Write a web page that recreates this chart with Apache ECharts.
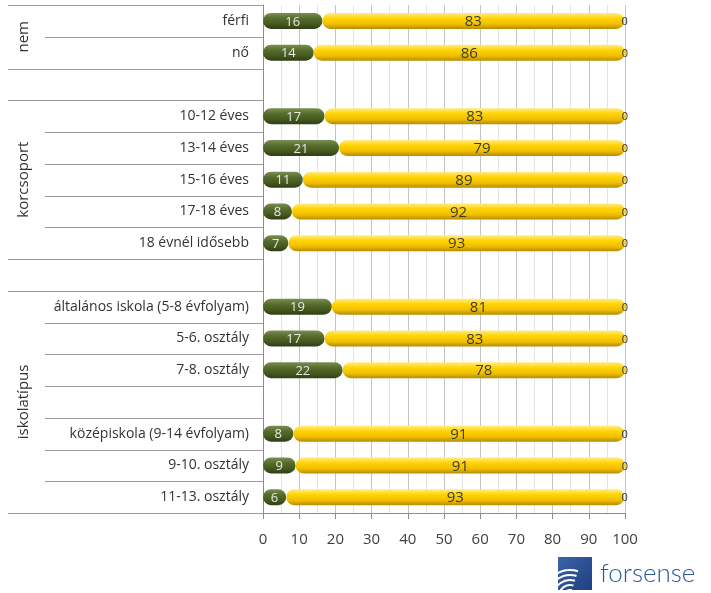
<!DOCTYPE html>
<html><head><meta charset="utf-8">
<script src="https://cdn.jsdelivr.net/npm/echarts@6/dist/echarts.min.js"></script>
<style>html,body{margin:0;padding:0;background:#fff}#c{width:711px;height:593px}</style>
</head><body><div id="c"></div>
<script>
var categories = ['férfi','nő','','10-12 éves','13-14 éves','15-16 éves','17-18 éves','18 évnél idősebb','','általános iskola (5-8 évfolyam)','5-6. osztály','7-8. osztály','','középiskola (9-14 évfolyam)','9-10. osztály','11-13. osztály'];
var seriesA = [16.4,14,null,17,21,11,8,7,null,19,17,22,null,8.4,9,6.4];
var seriesB = [83.4,86,null,83,79,89,92,93,null,81,83,78,null,91.4,91,93.4];
var seriesC = [0.2,0,null,0,0,0,0,0,null,0,0,0,null,0.2,0,0.2];
var xTicks = [0,10,20,30,40,50,60,70,80,90,100];
var groups = [{name:'nem',from:0,to:1},{name:'korcsoport',from:3,to:7},{name:'iskolatípus',from:9,to:15}];
var fullBoundaries = [0,2,3,8,9,16];
var innerBoundaries = [1,4,5,6,7,10,11,12,13,14,15];

var FONT = '"Open Sans", "DejaVu Sans", sans-serif';
var chart = echarts.init(document.getElementById('c'));
function grad(c1,c2,c3,c4){return new echarts.graphic.LinearGradient(0,0,0,1,[{offset:0,color:c1},{offset:0.35,color:c2},{offset:0.7,color:c3},{offset:1,color:c4}]);}
var round = function(p){return p.value==null?'':String(Math.round(p.value));};
chart.setOption({
  animation:false,
  grid:{left:263,right:86,top:5,bottom:80,containLabel:false},
  xAxis:{type:'value',min:xTicks[0],max:xTicks[xTicks.length-1],interval:10,
    axisLine:{show:true,lineStyle:{color:'#8c8c8c'}},
    axisTick:{show:true,length:6,lineStyle:{color:'#8c8c8c'}},
    axisLabel:{color:'#404040',fontSize:15,fontFamily:FONT,margin:19},
    splitLine:{show:true,lineStyle:{color:'#c4c4c4'}},
    minorTick:{show:false,splitNumber:2},
    minorSplitLine:{show:true,lineStyle:{color:'#e4e4e4'}}
  },
  yAxis:{type:'category',data:categories,inverse:true,
    axisLine:{show:true,lineStyle:{color:'#8c8c8c'}},
    axisTick:{show:false},
    axisLabel:{color:'#333',fontSize:14,fontFamily:FONT,margin:14}
  },
  series:[
    {type:'bar',stack:'s',data:seriesA,barWidth:16,
      itemStyle:{color:grad('#7d8f55','#566d2c','#45591f','#2f3e14'),borderRadius:8},
      label:{show:true,position:'inside',offset:[0,1],color:'#e8e8e8',fontSize:13,fontFamily:FONT,formatter:round}},
    {type:'bar',stack:'s',data:seriesB,barWidth:16,
      itemStyle:{color:grad('#ffec8a','#ffd400','#f0bf00','#b88c00'),borderRadius:8},
      label:{show:true,position:'inside',offset:[0,1],color:'#3a3a3a',fontSize:15,fontFamily:FONT,formatter:round}},
    {type:'bar',stack:'s',data:seriesC,barWidth:16,
      itemStyle:{color:'rgba(0,0,0,0)'},
      label:{show:true,position:'inside',offset:[0,1],color:'#333',fontSize:11,fontFamily:FONT,formatter:round}}
  ]
});

var y0 = chart.convertToPixel({yAxisIndex:0},0);
var y1 = chart.convertToPixel({yAxisIndex:0},1);
var band = y1 - y0;
function boundaryY(k){return y0 - band/2 + k*band;}
var axisX = chart.convertToPixel({xAxisIndex:0},0);
var els = [];
fullBoundaries.forEach(function(k){
  var y = Math.round(boundaryY(k))+0.5;
  els.push({type:'line',shape:{x1:8,y1:y,x2:axisX,y2:y},style:{stroke:'#9a9a9a',lineWidth:1},silent:true});
});
innerBoundaries.forEach(function(k){
  var y = Math.round(boundaryY(k))+0.5;
  els.push({type:'line',shape:{x1:45,y1:y,x2:axisX,y2:y},style:{stroke:'#9a9a9a',lineWidth:1},silent:true});
});
groups.forEach(function(g){
  var yc = (boundaryY(g.from)+boundaryY(g.to+1))/2;
  els.push({type:'text',x:24,y:yc,rotation:Math.PI/2,
    style:{text:g.name,font:'15px '+FONT,fill:'#333',textAlign:'center',textVerticalAlign:'middle'},silent:true});
});
// logo
els.push({type:'rect',shape:{x:558,y:557,width:34,height:33},
  style:{fill:new echarts.graphic.LinearGradient(0,0,1,1,[{offset:0,color:'#3d63a8'},{offset:1,color:'#1f3f80'}])},silent:true});
[6,11,16,21,26].forEach(function(r){
  els.push({type:'arc',shape:{cx:570,cy:596,r:r,startAngle:Math.PI*1.05,endAngle:Math.PI*1.6},
    style:{stroke:'#ffffff',lineWidth:2,fill:null},silent:true});
});
els.push({type:'text',x:600,y:574,style:{text:'forsense',font:'300 26px Lato, "Open Sans", sans-serif',fill:'#2b5a9e',textAlign:'left',textVerticalAlign:'middle'},silent:true});
chart.setOption({graphic:{elements:els}});
</script></body></html>
